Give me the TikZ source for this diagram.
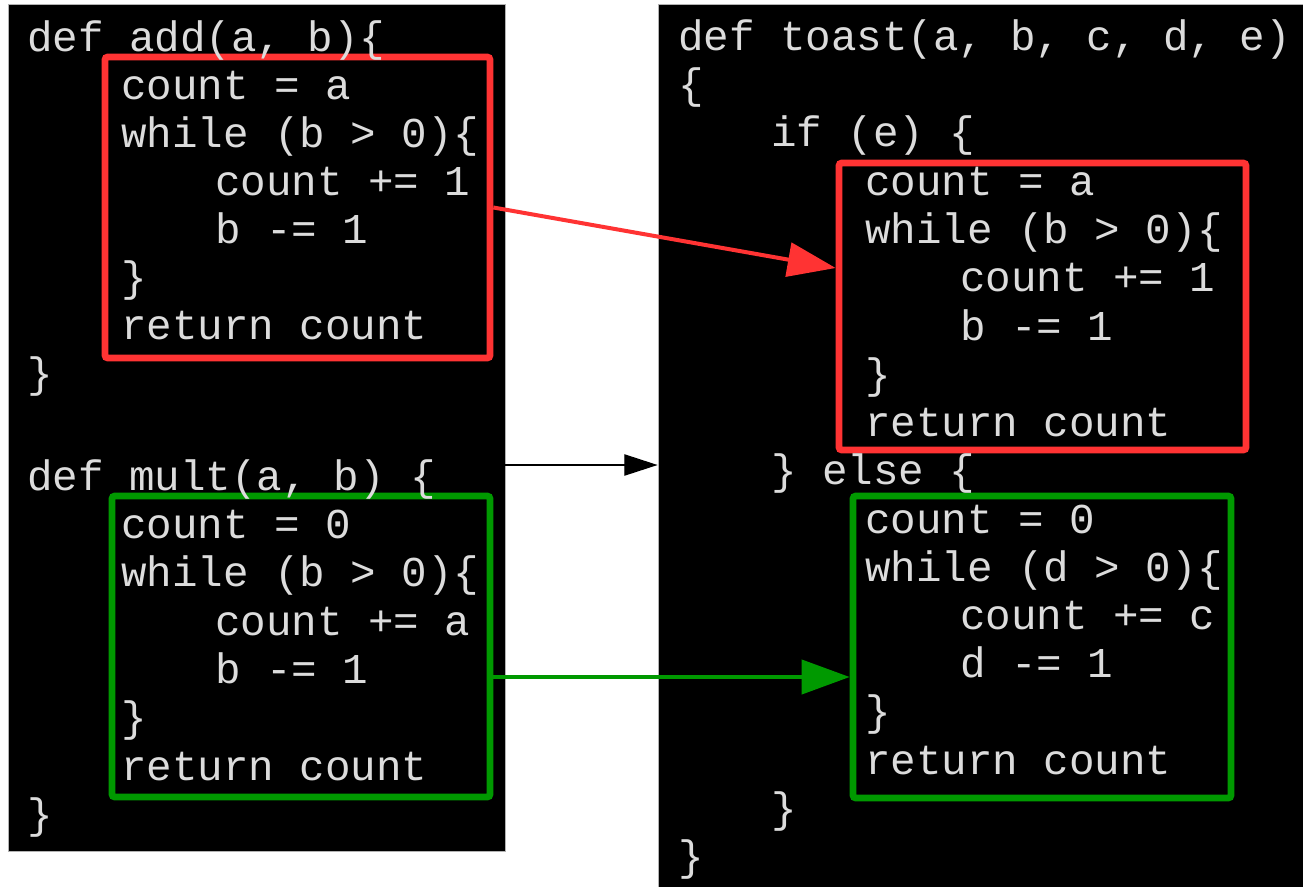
\documentclass[tikz,border=0pt]{standalone}
\usepackage{fontspec}
\usepackage{tikz}
\usetikzlibrary{arrows.meta,fit}

\newfontfamily\codefont{Liberation Mono}
\definecolor{codegray}{HTML}{DCDCDC}
\definecolor{loopred}{HTML}{FF3333}
\definecolor{loopgreen}{HTML}{009900}

\begin{document}
\begin{tikzpicture}
    [x=0.75pt, y=-0.75pt,
     panel/.style={draw=gray!60, line width=0.6pt, fill=black, inner sep=0pt},
     loop box/.style={draw=#1, line width=5pt, rounded corners=2pt, inner sep=0pt},
     code line/.style={anchor=base west, inner sep=0pt, text=codegray,
       font=\codefont\fontsize{31.9pt}{38pt}\selectfont},
     link/.style={draw=#1, line width=3pt, -{Triangle[length=36pt, width=25.5pt]}}]
    \useasboundingbox (0, 0) rectangle (1303, 886);

    % the two code panels
    \node[panel, fit={(8, 4) (505, 851)}] (leftpanel) {};
    \node[panel, fit={(658, 4) (1306, 889)}] (rightpanel) {};

    % loop bodies
    \node[loop box=loopred, fit={(105, 57) (490, 358)}] (addloop) {};
    \node[loop box=loopgreen, fit={(112, 496) (490, 797)}] (multloop) {};
    \node[loop box=loopred, fit={(839, 163) (1246, 450)}] (ifloop) {};
    \node[loop box=loopgreen, fit={(853, 496) (1231, 798)}] (elseloop) {};

    % add
    \node[code line] (add0) at (27, 51) {def add(a, b)\{};
    \node[code line] (add1) at (121, 99) {count = a};
    \node[code line] (add2) at (121, 147) {while (b > 0)\{};
    \node[code line] (add3) at (215, 195) {count += 1};
    \node[code line] (add4) at (215, 243) {b -= 1};
    \node[code line] (add5) at (121, 291) {\}};
    \node[code line] (add6) at (121, 339) {return count};
    \node[code line] (add7) at (27, 387) {\}};

    % mult
    \node[code line] (mult0) at (27, 490) {def mult(a, b) \{};
    \node[code line] (mult1) at (121, 538) {count = 0};
    \node[code line] (mult2) at (121, 586) {while (b > 0)\{};
    \node[code line] (mult3) at (215, 635) {count += a};
    \node[code line] (mult4) at (215, 683) {b -= 1};
    \node[code line] (mult5) at (121, 731) {\}};
    \node[code line] (mult6) at (121, 780) {return count};
    \node[code line] (mult7) at (27, 828) {\}};

    % toast
    \node[code line] (toast0) at (678, 50) {def toast(a, b, c, d, e)};
    \node[code line] (toast1) at (678, 98) {\{};
    \node[code line] (toast2) at (771, 146) {if (e) \{};
    \node[code line] (toast3) at (865, 195) {count = a};
    \node[code line] (toast4) at (865, 243) {while (b > 0)\{};
    \node[code line] (toast5) at (960, 291) {count += 1};
    \node[code line] (toast6) at (960, 340) {b -= 1};
    \node[code line] (toast7) at (865, 388) {\}};
    \node[code line] (toast8) at (865, 436) {return count};
    \node[code line] (toast9) at (771, 484) {\} else \{};
    \node[code line] (toast10) at (865, 533) {count = 0};
    \node[code line] (toast11) at (865, 581) {while (d > 0)\{};
    \node[code line] (toast12) at (960, 629) {count += c};
    \node[code line] (toast13) at (960, 677) {d -= 1};
    \node[code line] (toast14) at (865, 725) {\}};
    \node[code line] (toast15) at (865, 774) {return count};
    \node[code line] (toast16) at (771, 822) {\}};
    \node[code line] (toast17) at (678, 870) {\}};

    % arrows between the panels
    \draw[link=loopred] (addloop.east) -- (ifloop.west |- 0, 268);
    \draw[line width=1pt, -{Triangle[length=25pt, width=16pt]}]
      (leftpanel.east |- 0, 465) -- (rightpanel.west |- 0, 465);
    \draw[link=loopgreen] (multloop.east |- 0, 677) -- (elseloop.west |- 0, 677);
\end{tikzpicture}
\end{document}
